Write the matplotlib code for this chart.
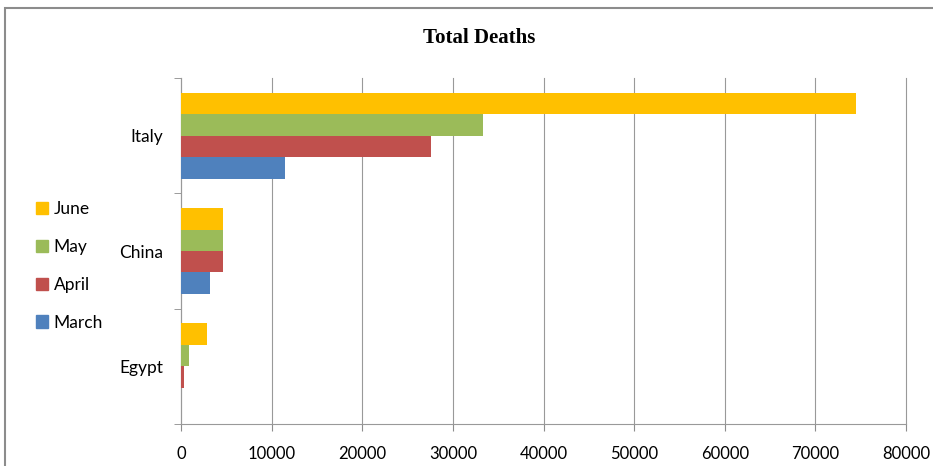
import matplotlib.pyplot as plt
import numpy as np
from matplotlib.patches import Patch, Rectangle

countries = ["Egypt", "China", "Italy"]
months = ["March", "April", "May", "June"]
march = [20, 3240, 11500]
april = [370, 4630, 27600]
may = [860, 4630, 33300]
june = [2900, 4650, 74500]
colors = ["#4F81BD", "#C0504D", "#9BBB59", "#FFC000"]

plt.rcParams['font.family'] = ['Lato', 'DejaVu Sans']

fig = plt.figure(figsize=(9.33, 4.66), dpi=100)
# outer chart frame
fig.patches.append(Rectangle((5 / 933, -0.1), 1.1, 1 - 8 / 466 + 0.1, transform=fig.transFigure,
                             fill=False, edgecolor="#8c8c8c", linewidth=1.5))
ax = fig.add_axes([181 / 933, 1 - 424 / 466, 725 / 933, 346 / 466])

y = np.arange(len(countries))
h = 0.186
for i, (vals, c, m) in enumerate(zip([march, april, may, june], colors, months)):
    ax.barh(y + (i - 1.5) * h, vals, height=h, color=c, label=m, zorder=3)

ax.set_xlim(0, 80000)
ax.set_ylim(-0.5, 2.5)
ax.set_xticks(np.arange(0, 80001, 10000))
ax.set_yticks(y)
ax.set_yticklabels(countries, fontsize=12.5)
ax.set_yticks(np.arange(-0.5, 2.6, 1), minor=True)
ax.tick_params(axis='y', which='major', length=0, pad=13)
ax.tick_params(axis='y', which='minor', length=5, color="#8c8c8c")
ax.tick_params(axis='x', length=5, color="#8c8c8c", labelsize=12, pad=11)
ax.grid(axis='x', color="#999999", linewidth=0.8, zorder=0)
for gl in ax.get_xgridlines():
    gl.set_clip_on(False)
for s in ["top", "right"]:
    ax.spines[s].set_visible(False)
for s in ["left", "bottom"]:
    ax.spines[s].set_color("#999999")

fig.text(479 / 933, 1 - 38 / 466, "Total Deaths", ha="center", va="center",
         fontsize=15, fontweight="bold", family="Liberation Serif")

handles = [Patch(color=c) for c in colors[::-1]]
fig.legend(handles, months[::-1], loc="center left", bbox_to_anchor=(20 / 933, 1 - 266 / 466),
           frameon=False, fontsize=12.5, handlelength=0.7, handleheight=0.7,
           handletextpad=0.35, labelspacing=1.25)

fig.savefig("out.png", dpi=100)
